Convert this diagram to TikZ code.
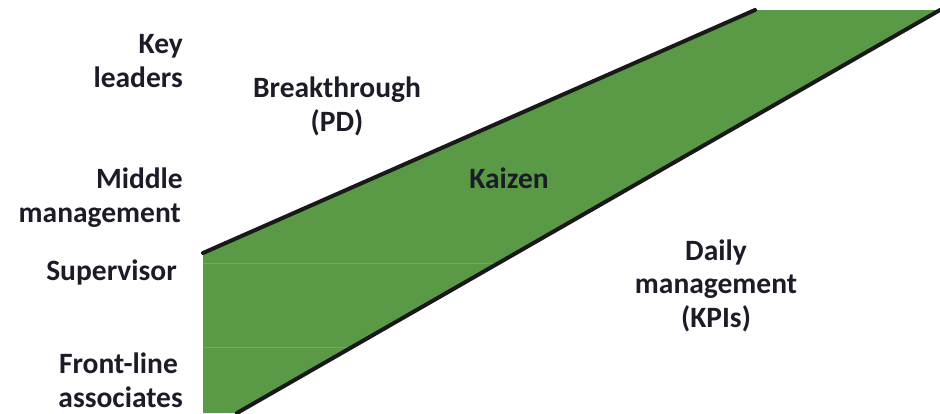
\documentclass[tikz,border=0pt]{standalone}
\usepackage{fontspec}
\setmainfont{Carlito}
\definecolor{bandgreen}{HTML}{5A9A46}
\definecolor{txt}{HTML}{1C1C28}
\begin{document}
\begin{tikzpicture}[x=1pt,y=-1pt,
  lbl/.style={inner sep=0pt,anchor=base east,text=txt,font=\fontsize{29.5}{35}\selectfont\bfseries},
  ctr/.style={inner sep=0pt,anchor=base,text=txt,font=\fontsize{29.5}{35}\selectfont\bfseries},
  edge/.style={line width=4pt,black!90,line cap=round}]
\useasboundingbox (0,0) rectangle (940,413);
\coordinate (tl) at (203,253);
\coordinate (tm) at (755,10);
\coordinate (tr) at (940,10);
\coordinate (br) at (237,413);
\coordinate (bl) at (203,413);
\fill[bandgreen] (tl) -- (tm) -- (tr) -- (br) -- (bl) -- cycle;
\begin{scope}
\clip (tl) -- (tm) -- (tr) -- (br) -- (bl) -- cycle;
\draw[bandgreen!85!white,line width=0.6pt] (203,263) -- (940,263);
\draw[bandgreen!85!white,line width=0.6pt] (203,347) -- (940,347);
\end{scope}
\draw[edge] (tl) -- (tm);
\draw[edge] (tr) -- (br);
\node[lbl] (k1) at (183,53) {Key};
\node[lbl] (k2) at (183,87) {leaders};
\node[lbl] (m1) at (183,188) {Middle};
\node[lbl] (m2) at (181,222) {management};
\node[lbl] (s1) at (177,280) {Supervisor};
\node[lbl] (f1) at (178,373) {Front-line};
\node[lbl] (f2) at (183,407) {associates};
\node[ctr] (b1) at (337,97) {Breakthrough};
\node[ctr] (b2) at (337,131) {(PD)};
\node[ctr] (kz) at (509,188) {Kaizen};
\node[ctr] (d1) at (716,260) {Daily};
\node[ctr] (d2) at (716,293) {management};
\node[ctr] (d3) at (716,327) {(KPIs)};
\end{tikzpicture}
\end{document}
